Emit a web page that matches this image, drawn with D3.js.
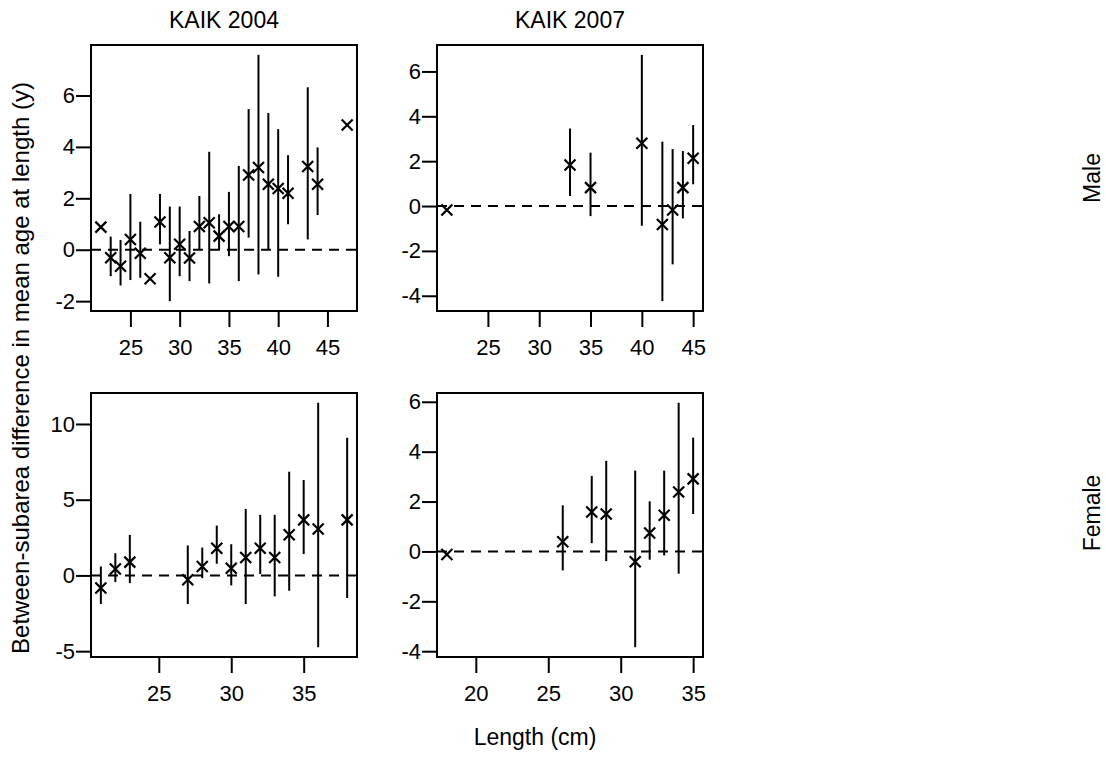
<!DOCTYPE html>
<html>
<head>
<meta charset="utf-8">
<script src="https://cdn.jsdelivr.net/npm/d3@7"></script>
<style>
  html, body { margin: 0; padding: 0; background: #fff; }
  svg text { font-family: "Liberation Sans", Arial, sans-serif; fill: #000; }
</style>
</head>
<body>
<svg id="chart" width="1106" height="758"></svg>
<script>
// Between-subarea difference in mean age at length, with interval bars.
// null bounds = no interval drawn for that length class.

// Male, KAIK 2004
const m04Len  = [22, 23, 24, 25, 26, 27, 28, 29, 30, 31, 32, 33, 34, 35, 36, 37, 38, 39, 40, 41, 43, 44, 47];
const m04Diff = [0.88, -0.31, -0.64, 0.40, -0.14, -1.13, 1.08, -0.31, 0.21, -0.32, 0.90, 1.05, 0.53, 0.90, 0.90, 2.91, 3.20, 2.55, 2.38, 2.20, 3.24, 2.55, 4.85];
const m04Lo   = [null, -1.03, -1.39, -1.18, -1.09, null, 0.21, -2.00, -1.03, -1.22, 0.01, -1.31, -0.01, -0.25, -1.22, 0.47, -0.96, 0.00, -1.05, 0.99, 0.40, 1.35, null];
const m04Hi   = [null, 0.51, 0.38, 2.17, 1.09, null, 2.17, 1.68, 1.68, 0.73, 2.09, 3.81, 1.38, 2.25, 3.26, 5.47, 7.58, 5.32, 4.69, 3.68, 6.32, 3.98, null];

// Male, KAIK 2007
const m07Len  = [21, 33, 35, 40, 42, 43, 44, 45];
const m07Diff = [-0.18, 1.83, 0.82, 2.80, -0.82, -0.18, 0.82, 2.13];
const m07Lo   = [null, 0.45, -0.45, -0.88, -4.24, -2.60, -0.55, 0.97];
const m07Hi   = [null, 3.46, 2.38, 6.74, 2.87, 2.54, 2.45, 3.61];

// Female, KAIK 2004
const f04Len  = [21, 22, 23, 27, 28, 29, 30, 31, 32, 33, 34, 35, 36, 38];
const f04Diff = [-0.83, 0.42, 0.88, -0.29, 0.59, 1.80, 0.48, 1.19, 1.80, 1.19, 2.68, 3.67, 3.07, 3.67];
const f04Lo   = [-1.89, -0.44, -0.51, -1.89, -0.18, 0.77, -0.66, -1.89, 0.09, -1.38, -1.01, 1.41, -4.74, -1.49];
const f04Hi   = [0.59, 1.47, 2.68, 1.98, 1.84, 3.29, 2.06, 4.39, 4.00, 4.00, 6.85, 6.30, 11.40, 9.09];

// Female, KAIK 2007
const f07Len  = [18, 26, 28, 29, 31, 32, 33, 34, 35];
const f07Diff = [-0.12, 0.39, 1.58, 1.50, -0.41, 0.74, 1.45, 2.38, 2.91];
const f07Lo   = [null, -0.76, 0.33, -0.39, -3.84, -0.33, -0.16, -0.89, 1.50];
const f07Hi   = [null, 1.85, 3.03, 3.63, 3.24, 2.01, 3.24, 5.96, 4.56];

// Tick values
const xTicksM04 = [25, 30, 35, 40, 45];
const xTicksM07 = [25, 30, 35, 40, 45];
const xTicksF04 = [25, 30, 35];
const xTicksF07 = [20, 25, 30, 35];
const yTicksM04 = [-2, 0, 2, 4, 6];
const yTicksM07 = [-4, -2, 0, 2, 4, 6];
const yTicksF04 = [-5, 0, 5, 10];
const yTicksF07 = [-4, -2, 0, 2, 4, 6];

const columnTitles = ["KAIK 2004", "KAIK 2007"];
const rowLabels = ["Male", "Female"];
const yTitle = "Between-subarea difference in mean age at length (y)";
const xTitle = "Length (cm)";

const TICK_FONT = 22;
const LABEL_FONT = 23;
const svg = d3.select("#chart");

// Panel frames (left, right, top, bottom)
const colX = [[91, 357], [437, 703]];
const rowY = [[45, 311], [393, 657]];
// Vertical centres of the row labels in the right margin
const rowLabelY = [178, 513];

const panels = [
  { len: m04Len, diff: m04Diff, lo: m04Lo, hi: m04Hi, xt: xTicksM04, yt: yTicksM04, c: 0, r: 0 },
  { len: m07Len, diff: m07Diff, lo: m07Lo, hi: m07Hi, xt: xTicksM07, yt: yTicksM07, c: 1, r: 0 },
  { len: f04Len, diff: f04Diff, lo: f04Lo, hi: f04Hi, xt: xTicksF04, yt: yTicksF04, c: 0, r: 1 },
  { len: f07Len, diff: f07Diff, lo: f07Lo, hi: f07Hi, xt: xTicksF07, yt: yTicksF07, c: 1, r: 1 }
];

// Pad a data range by 4% on each side
function padded(lo, hi) {
  const d = (hi - lo) * 0.04;
  return [lo - d, hi + d];
}

panels.forEach(p => {
  const [x0, x1] = colX[p.c];
  const [y0, y1] = rowY[p.r];
  const rows = p.len.map((L, i) => ({ len: L, diff: p.diff[i], lo: p.lo[i], hi: p.hi[i] }));

  const xExt = d3.extent(rows, d => d.len);
  const yMin = d3.min(rows, d => d.lo == null ? d.diff : Math.min(d.lo, d.diff));
  const yMax = d3.max(rows, d => d.hi == null ? d.diff : Math.max(d.hi, d.diff));

  const x = d3.scaleLinear().domain(padded(xExt[0], xExt[1])).range([x0, x1]);
  const y = d3.scaleLinear().domain(padded(yMin, yMax)).range([y1, y0]);

  const g = svg.append("g");

  // Reference line at zero
  g.append("line")
    .attr("x1", x0).attr("x2", x1)
    .attr("y1", y(0)).attr("y2", y(0))
    .attr("stroke", "#000").attr("stroke-width", 2)
    .attr("stroke-dasharray", "10,7");

  // Interval bars
  g.selectAll("line.bar")
    .data(rows.filter(d => d.lo != null))
    .join("line")
    .attr("class", "bar")
    .attr("x1", d => x(d.len)).attr("x2", d => x(d.len))
    .attr("y1", d => y(d.lo)).attr("y2", d => y(d.hi))
    .attr("stroke", "#000").attr("stroke-width", 2);

  // Point markers
  const s = 5.5;
  g.selectAll("path.pt")
    .data(rows)
    .join("path")
    .attr("class", "pt")
    .attr("d", d => {
      const cx = x(d.len), cy = y(d.diff);
      return `M${cx - s},${cy - s}L${cx + s},${cy + s}M${cx + s},${cy - s}L${cx - s},${cy + s}`;
    })
    .attr("stroke", "#000").attr("stroke-width", 2.2).attr("fill", "none");

  // Frame
  g.append("rect")
    .attr("x", x0).attr("y", y0)
    .attr("width", x1 - x0).attr("height", y1 - y0)
    .attr("fill", "none").attr("stroke", "#000").attr("stroke-width", 2);

  // Bottom axis
  const xAxis = d3.axisBottom(x).tickValues(p.xt).tickSize(16).tickPadding(12).tickFormat(d3.format("d"));
  const ga = g.append("g").attr("transform", `translate(0,${y1})`).call(xAxis);
  ga.select(".domain").remove();
  ga.selectAll(".tick line").attr("stroke", "#000").attr("stroke-width", 2);
  ga.selectAll(".tick text").attr("font-size", TICK_FONT).attr("font-family", null).attr("fill", "#000");

  // Left axis
  const yAxis = d3.axisLeft(y).tickValues(p.yt).tickSize(15).tickPadding(1).tickFormat(d3.format("d"));
  const gy = g.append("g").attr("transform", `translate(${x0},0)`).call(yAxis);
  gy.select(".domain").remove();
  gy.selectAll(".tick line").attr("stroke", "#000").attr("stroke-width", 2);
  gy.selectAll(".tick text").attr("font-size", TICK_FONT).attr("font-family", null).attr("fill", "#000")
    .text(d => d < 0 ? "-" + Math.abs(d) : String(d));
});

// Column titles
columnTitles.forEach((t, c) => {
  svg.append("text")
    .attr("x", (colX[c][0] + colX[c][1]) / 2).attr("y", 28)
    .attr("text-anchor", "middle").attr("font-size", LABEL_FONT)
    .text(t);
});

// Row labels on the right
rowLabels.forEach((t, r) => {
  svg.append("text")
    .attr("transform", `translate(1100,${rowLabelY[r]}) rotate(-90)`)
    .attr("text-anchor", "middle").attr("font-size", LABEL_FONT)
    .text(t);
});

// Shared axis titles
svg.append("text")
  .attr("transform", `translate(29,368) rotate(-90)`)
  .attr("text-anchor", "middle").attr("font-size", 24)
  .text(yTitle);

svg.append("text")
  .attr("x", 535).attr("y", 745)
  .attr("text-anchor", "middle").attr("font-size", LABEL_FONT)
  .text(xTitle);
</script>
</body>
</html>
